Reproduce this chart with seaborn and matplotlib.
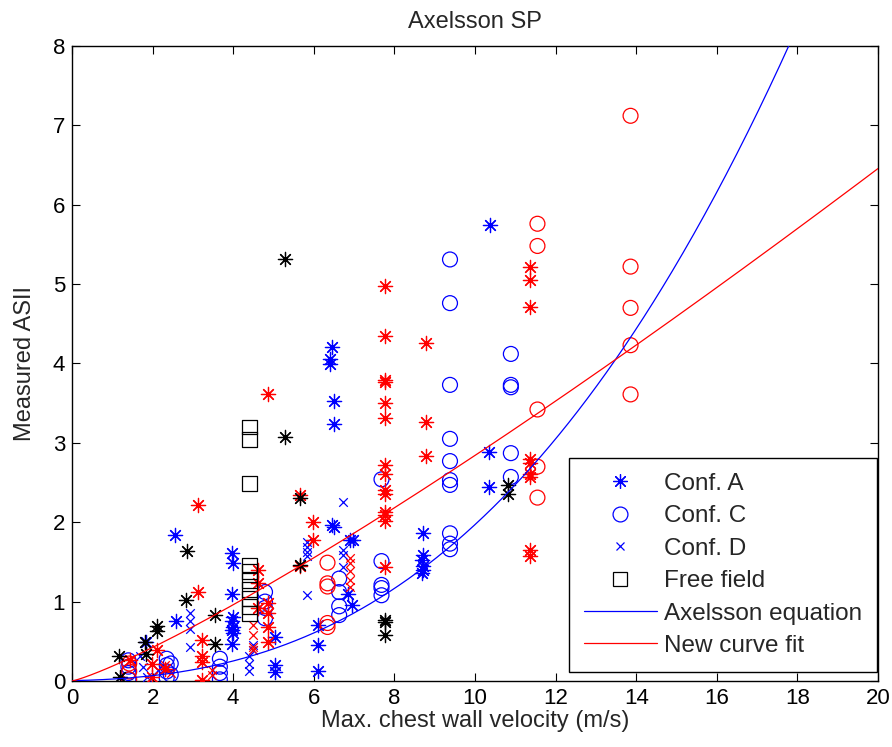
import numpy as np
import pandas as pd
import matplotlib
matplotlib.use("Agg")
import matplotlib.pyplot as plt
from matplotlib.lines import Line2D
import seaborn as sns

# ---------------- data ----------------
# Conf. A (asterisk) - blue
a_blue_x = [10.37, 6.45, 6.40, 6.40, 6.49, 6.49, 6.50, 6.45, 6.98, 6.90,
            8.70, 8.70, 8.68, 8.72, 8.70, 8.68, 10.36, 10.36,
            6.11, 6.11, 6.11, 6.86, 6.95,
            3.96, 4.00, 3.98, 4.00, 3.98, 4.00, 3.98, 4.00, 3.98,
            5.04, 5.04, 5.04, 2.56, 2.58, 1.84]
a_blue_y = [5.75, 4.21, 4.05, 3.99, 3.53, 3.24, 1.94, 1.96, 1.78, 1.77,
            1.86, 1.59, 1.52, 1.45, 1.40, 1.36, 2.88, 2.44,
            0.71, 0.45, 0.12, 1.10, 0.96,
            1.61, 1.48, 1.10, 0.81, 0.75, 0.68, 0.64, 0.60, 0.47,
            0.56, 0.20, 0.11, 1.84, 0.75, 0.49]

# Conf. A (asterisk) - red
a_red_x = [7.77, 7.77, 7.77, 7.77, 7.77, 7.77, 7.77, 7.77, 7.77, 7.77, 7.77, 7.77, 7.77, 7.77,
           8.78, 8.78, 8.78,
           11.36, 11.36, 11.36, 11.36, 11.36, 11.36, 11.36, 11.36, 11.36,
           5.66, 5.66, 5.97, 5.97, 4.87, 3.13, 3.13,
           4.62, 4.62, 4.62, 4.87, 4.87, 4.87, 4.87,
           3.22, 3.22, 3.22, 3.22, 1.44, 1.98, 1.98, 2.10, 2.30]
a_red_y = [4.97, 4.34, 3.79, 3.77, 3.50, 3.31, 2.72, 2.61, 2.41, 2.35, 2.13, 2.09, 2.01, 1.44,
           4.26, 3.26, 2.84,
           5.22, 5.05, 4.71, 2.80, 2.74, 2.61, 2.57, 1.65, 1.57,
           2.34, 1.45, 2.00, 1.78, 3.61, 2.22, 1.12,
           1.40, 1.23, 0.92, 0.98, 0.85, 0.68, 0.49,
           0.52, 0.31, 0.24, 0.01, 0.26, 0.22, 0.05, 0.39, 0.15]

# Conf. A (asterisk) - black
a_black_x = [5.29, 5.29, 5.66, 5.66, 7.77, 7.77, 7.77, 10.81, 10.81,
             1.17, 1.19, 1.81, 1.84, 2.12, 2.12, 2.83, 2.85, 3.55, 3.55]
a_black_y = [5.31, 3.07, 2.31, 1.46, 0.77, 0.74, 0.58, 2.47, 2.36,
             0.31, 0.05, 0.49, 0.34, 0.69, 0.63, 1.02, 1.64, 0.83, 0.46]

# Conf. C (circle) - blue
c_blue_x = [9.38, 9.38, 9.38, 9.38, 9.38, 9.38, 9.38, 9.38, 9.38, 9.38,
            10.89, 10.89, 10.89, 10.89, 10.89,
            7.68, 7.68, 7.68, 7.68, 7.68,
            6.63, 6.63, 6.63, 6.63,
            4.79, 4.79, 4.79, 4.79,
            1.40, 1.40, 1.40, 1.40,
            2.35, 2.35, 2.35, 2.35, 2.45, 2.45,
            3.67, 3.67, 3.67, 3.67]
c_blue_y = [5.31, 4.76, 3.73, 3.05, 2.77, 2.53, 2.47, 1.86, 1.73, 1.66,
            4.12, 3.73, 3.70, 2.87, 2.57,
            2.54, 1.51, 1.21, 1.17, 1.08,
            1.29, 1.12, 0.94, 0.83,
            1.12, 1.00, 0.92, 0.79,
            0.26, 0.18, 0.10, 0.02,
            0.28, 0.20, 0.12, 0.04, 0.22, 0.08,
            0.28, 0.18, 0.10, 0.02]

# Conf. C (circle) - red
c_red_x = [11.55, 11.55, 11.55, 11.55, 11.55,
           13.86, 13.86, 13.86, 13.86, 13.86,
           6.34, 6.34, 6.34, 6.34, 6.34,
           1.42, 1.42, 1.42]
c_red_y = [5.76, 5.48, 3.42, 2.70, 2.31,
           7.12, 5.22, 4.70, 4.23, 3.61,
           1.49, 1.23, 1.19, 0.73, 0.68,
           0.22, 0.12, 0.02]

# Conf. D (x) - blue
d_blue_x = [6.73, 5.84, 5.82, 5.82, 5.82, 5.82, 6.73, 6.73, 6.73,
            4.38, 4.38, 4.38, 4.50, 4.50,
            2.93, 2.93, 2.93, 2.93,
            1.69, 1.77, 1.85, 2.13]
d_blue_y = [2.26, 1.08, 1.75, 1.69, 1.63, 1.57, 1.65, 1.59, 1.44,
            0.31, 0.22, 0.12, 0.45, 0.39,
            0.85, 0.75, 0.66, 0.43,
            0.31, 0.18, 0.05, 0.14]

# Conf. D (x) - red
d_red_x = [6.90, 6.90, 6.90, 6.90, 6.90,
           4.50, 4.50, 4.50, 4.50,
           3.47, 3.47, 2.30, 2.45]
d_red_y = [1.55, 1.48, 1.38, 1.27, 1.19,
           0.71, 0.58, 0.43, 0.39,
           0.14, 0.08, 0.20, 0.10]

# Free field (square) - black
ff_x = [4.40, 4.40, 4.40, 4.40, 4.40, 4.40, 4.40, 4.40, 4.40, 4.40]
ff_y = [3.20, 3.04, 2.49, 1.46, 1.38, 1.27, 1.15, 1.04, 0.94, 0.85]

# Curves: Axelsson equation ASII = (a + b V)^c, and the new power-law fit
axelsson_a, axelsson_b, axelsson_c = 0.124, 0.117, 2.63
fit_k, fit_p = 0.186, 1.184

x_ticks = [0, 2, 4, 6, 8, 10, 12, 14, 16, 18, 20]
y_ticks = [0, 1, 2, 3, 4, 5, 6, 7, 8]
legend_labels = ["Conf. A", "Conf. C", "Conf. D", "Free field",
                 "Axelsson equation", "New curve fit"]

# ---------------- styling ----------------
sns.set_theme(style="ticks")
plt.rcParams["font.family"] = ["Liberation Sans", "DejaVu Sans"]
plt.rcParams.update({
    "xtick.direction": "in", "ytick.direction": "in",
    "xtick.top": True, "ytick.right": True,
    "xtick.major.size": 6, "ytick.major.size": 6,
    "xtick.major.width": 0.8, "ytick.major.width": 0.8,
    "axes.linewidth": 1.0, "axes.edgecolor": "black",
})

BLUE, RED, BLACK = "#0000ff", "#ff0000", "#000000"
AST = (8, 2, 0)

groups = [
    ("A", "blue", a_blue_x, a_blue_y),
    ("C", "blue", c_blue_x, c_blue_y),
    ("D", "blue", d_blue_x, d_blue_y),
    ("A", "red", a_red_x, a_red_y),
    ("C", "red", c_red_x, c_red_y),
    ("D", "red", d_red_x, d_red_y),
    ("A", "black", a_black_x, a_black_y),
    ("F", "black", ff_x, ff_y),
]
rows = []
for conf, col, xs, ys in groups:
    for xv, yv in zip(xs, ys):
        rows.append({"v": xv, "asii": yv, "conf": conf, "col": col})
df = pd.DataFrame(rows)

cmap = {"blue": BLUE, "red": RED, "black": BLACK}
mstyle = {"A": dict(marker=AST, s=105, linewidths=0.9),
          "C": dict(marker="o", s=115, linewidths=0.9),
          "D": dict(marker="x", s=38, linewidths=0.9),
          "F": dict(marker="s", s=112, linewidths=0.9)}

fig = plt.figure(figsize=(8.92, 7.47), dpi=100)
ax = fig.add_axes([0.0807, 0.0884, 0.9036, 0.8501])

order = [("blue", "A"), ("blue", "C"), ("blue", "D"),
         ("red", "A"), ("red", "C"), ("red", "D"),
         ("black", "A"), ("black", "F")]
for col, conf in order:
    sub = df[(df.col == col) & (df.conf == conf)]
    kw = dict(mstyle[conf])
    if conf in ("C", "F"):
        kw.update(facecolor="none", edgecolor=cmap[col])
    sns.scatterplot(data=sub, x="v", y="asii", color=cmap[col], ax=ax,
                    legend=False, zorder=3, **kw)

v = np.linspace(0, 20, 600)
curves = pd.DataFrame({
    "v": v,
    "axelsson": (axelsson_a + axelsson_b * v) ** axelsson_c,
    "fit": fit_k * v ** fit_p,
})
sns.lineplot(data=curves, x="v", y="axelsson", color=BLUE, lw=0.9, ax=ax, zorder=4)
sns.lineplot(data=curves, x="v", y="fit", color=RED, lw=0.9, ax=ax, zorder=4)

ax.set_xlim(0, 20)
ax.set_ylim(0, 8)
ax.set_xticks(x_ticks)
ax.set_yticks(y_ticks)
ax.tick_params(labelsize=16, colors="black", pad=5)
ax.set_xlabel("Max. chest wall velocity (m/s)", fontsize=17, labelpad=1)
ax.set_ylabel("Measured ASII", fontsize=17, labelpad=12)
ax.set_title("Axelsson SP", fontsize=17, pad=13)

handles = [
    Line2D([], [], ls="none", marker=AST, ms=10.2, mew=0.9, color=BLUE),
    Line2D([], [], ls="none", marker="o", ms=10.7, mew=0.9, mfc="none", mec=BLUE),
    Line2D([], [], ls="none", marker="x", ms=6.0, mew=0.9, color=BLUE),
    Line2D([], [], ls="none", marker="s", ms=10.6, mew=0.9, mfc="none", mec=BLACK),
    Line2D([], [], color=BLUE, lw=0.9),
    Line2D([], [], color=RED, lw=0.9),
]
leg = ax.legend(handles, legend_labels, loc="lower right",
                bbox_to_anchor=(0.9988, 0.014), borderaxespad=0,
                fontsize=17.5, frameon=True, fancybox=False, framealpha=1,
                edgecolor="black", handlelength=3.0, handletextpad=0.3,
                labelspacing=0.43, borderpad=0.62)
leg.get_frame().set_linewidth(1.0)

fig.savefig("out.png", dpi=100)
